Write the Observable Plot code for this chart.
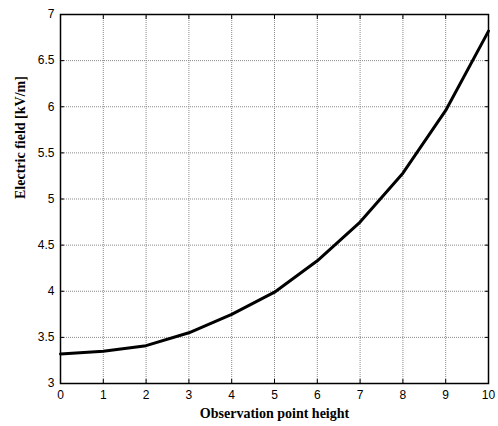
<!DOCTYPE html>
<html>
<head>
<meta charset="utf-8">
<script src="https://cdn.jsdelivr.net/npm/d3@7"></script>
<script src="https://cdn.jsdelivr.net/npm/@observablehq/plot@0.6"></script>
<style>
  html, body { margin: 0; padding: 0; background: #fff; }
</style>
</head>
<body>
<div id="chart"></div>
<script>
// Observation point height (x) and computed electric field in kV/m (y)
const heights = [0, 1, 2, 3, 4, 5, 6, 7, 8, 9, 10];
const fieldKVm = [3.32, 3.35, 3.41, 3.55, 3.75, 3.99, 4.33, 4.75, 5.28, 5.96, 6.82];

const xTicks = [0, 1, 2, 3, 4, 5, 6, 7, 8, 9, 10];
const yTicks = [3, 3.5, 4, 4.5, 5, 5.5, 6, 6.5, 7];

const xTitle = "Observation point height";
const yTitle = "Electric field [kV/m]";

const data = heights.map((h, i) => ({h, e: fieldKVm[i]}));

const tickFont = {fontSize: 12, fontFamily: "Liberation Sans, Arial, sans-serif"};
const titleFont = {fontSize: 14, fontWeight: "bold", fontFamily: "Liberation Serif, Times New Roman, serif", fill: "#000"};

const chart = Plot.plot({
  width: 498,
  height: 426,
  marginLeft: 60,
  marginRight: 10,
  marginTop: 14,
  marginBottom: 43,
  style: {background: "#fff", color: "#000", overflow: "visible"},
  x: {domain: [0, 10]},
  y: {domain: [3, 7]},
  marks: [
    Plot.gridX(xTicks, {stroke: "#8a8a8a", strokeOpacity: 1, strokeDasharray: "1,1"}),
    Plot.gridY(yTicks, {stroke: "#8a8a8a", strokeOpacity: 1, strokeDasharray: "1,1"}),
    Plot.axisX(xTicks, {anchor: "bottom", tickSize: -4, tickPadding: 11, tickFormat: (d) => String(d), label: null, ...tickFont}),
    Plot.axisX(xTicks, {anchor: "top", tickSize: -4, tickFormat: () => "", label: null}),
    Plot.axisY(yTicks, {anchor: "left", tickSize: -4, tickPadding: 10, tickFormat: (d) => String(d), label: null, ...tickFont}),
    Plot.axisY(yTicks, {anchor: "right", tickSize: -4, tickFormat: () => "", label: null}),
    Plot.frame({stroke: "#000", strokeWidth: 1.5}),
    Plot.line(data, {x: "h", y: "e", stroke: "#000", strokeWidth: 3, strokeLinejoin: "round"}),
    Plot.text([xTitle], {frameAnchor: "bottom", dy: 34, ...titleFont}),
    Plot.text([yTitle], {frameAnchor: "left", dx: -40, rotate: -90, ...titleFont})
  ]
});

document.getElementById("chart").appendChild(chart);
</script>
</body>
</html>
